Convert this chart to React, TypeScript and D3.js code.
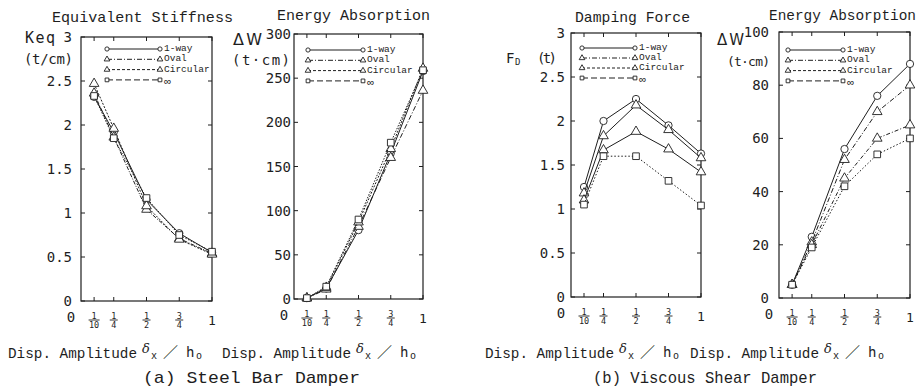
import React from "react"
import * as d3 from "d3"

// x positions (disp. amplitude) and their tick labels
const xValues = [0.1, 0.25, 0.5, 0.75, 1]
const xTickLabels = ["1/10", "1/4", "1/2", "3/4", "1"]

const seriesNames = ["1-way", "Oval", "Circular", "∞"]
const seriesShapes = ["circle", "triangle", "triangle", "square"]
const legendDash = ["none", "5,2,1,2", "3,2", "6,3"]

// (a) steel bar damper
const stiffOneWay = [2.32, 1.92, 1.15, 0.77, 0.55]
const stiffOval = [2.36, 1.86, 1.04, 0.71, 0.54]
const stiffCircular = [2.47, 1.96, 1.08, 0.7, 0.53]
const stiffInf = [2.33, 1.85, 1.17, 0.75, 0.56]

const steelWOneWay = [1, 12, 78, 165, 258]
const steelWOval = [1, 11, 82, 160, 236]
const steelWCircular = [1, 13, 87, 170, 261]
const steelWInf = [1, 14, 90, 177, 259]

// (b) viscous shear damper
const dampOneWay = [1.25, 2.0, 2.25, 1.95, 1.63]
const dampOval = [1.18, 1.83, 2.18, 1.9, 1.58]
const dampCircular = [1.1, 1.67, 1.88, 1.68, 1.42]
const dampInf = [1.05, 1.6, 1.6, 1.32, 1.04]

const viscWOneWay = [5, 23, 56, 76, 88]
const viscWOval = [5, 21, 52, 70, 80]
const viscWCircular = [5, 20, 45, 60, 65]
const viscWInf = [5, 19, 42, 54, 60]

const forceTicks = [0, 0.5, 1, 1.5, 2, 2.5, 3]
const steelWTicks = [0, 50, 100, 150, 200, 250, 300]
const viscWTicks = [0, 20, 40, 60, 80, 100]

const INK = "#1e1e1e"
const MONO = "'Liberation Mono', monospace"
const SANSMONO = "'DejaVu Sans Mono', monospace"

interface PanelCfg {
  box: { left: number; right: number; top: number; bottom: number }
  yMax: number
  yTicks: number[]
  tickGap: number
  series: number[][]
  plotDash: string[]
  legend: { x0: number; x1: number; y0: number; step: number }
}

const Marker = ({ shape, x, y, size }: { shape: string; x: number; y: number; size: number }) => {
  const type = shape === "circle" ? d3.symbolCircle : shape === "triangle" ? d3.symbolTriangle : d3.symbolSquare
  const d = d3.symbol().type(type).size(size)()
  return <path d={d || ""} transform={`translate(${x},${y})`} fill="#fff" stroke={INK} strokeWidth={0.9} />
}

const Panel = ({ cfg }: { cfg: PanelCfg }) => {
  const { box, yMax, yTicks, tickGap, series, plotDash, legend } = cfg
  const x = d3.scaleLinear().domain([0, 1]).range([box.left, box.right])
  const y = d3.scaleLinear().domain([0, yMax]).range([box.bottom, box.top])
  const line = d3
    .line<number>()
    .x((_, i) => x(xValues[i]))
    .y((d) => y(d))
  const sizeFor = (s: string) => (s === "circle" ? 42 : s === "triangle" ? 40 : 44)

  return (
    <g>
      <rect x={box.left} y={box.top} width={box.right - box.left} height={box.bottom - box.top} fill="none" stroke={INK} strokeWidth={1.2} />
      {/* y ticks, inward on both sides */}
      {yTicks.map((t) => (
        <g key={"y" + t}>
          <line x1={box.left} x2={box.left + 4} y1={y(t)} y2={y(t)} stroke={INK} />
          <line x1={box.right} x2={box.right - 4} y1={y(t)} y2={y(t)} stroke={INK} />
          <text x={box.left - tickGap} y={y(t)} dy="0.36em" textAnchor="end" fontFamily={SANSMONO} fontSize={14} fill={INK}>
            {t}
          </text>
        </g>
      ))}
      {/* x ticks */}
      {xValues.map((v, i) => {
        const [num, den] = xTickLabels[i].split("/")
        const cx = x(v)
        const barY = box.bottom + 19
        return (
          <g key={"x" + v}>
            <line x1={cx} x2={cx} y1={box.bottom} y2={box.bottom - 4} stroke={INK} />
            <line x1={cx} x2={cx} y1={box.top} y2={box.top + 4} stroke={INK} />
            {den ? (
              <g fontFamily={SANSMONO} fontSize={8.5} fill={INK} textAnchor="middle">
                <text x={cx} y={barY - 1.5}>{num}</text>
                <line x1={cx - (den.length > 1 ? 5.5 : 4)} x2={cx + (den.length > 1 ? 5.5 : 4)} y1={barY} y2={barY} stroke={INK} strokeWidth={0.9} />
                <text x={cx} y={barY + 7.5}>{den}</text>
              </g>
            ) : (
              <text x={cx} y={barY + 5} textAnchor="middle" fontFamily={SANSMONO} fontSize={13} fill={INK}>
                {num}
              </text>
            )}
          </g>
        )
      })}
      <text x={box.left - 10} y={box.bottom + 21} textAnchor="middle" fontFamily={SANSMONO} fontSize={14} fill={INK}>
        0
      </text>
      {/* data */}
      {series.map((vals, si) => (
        <g key={"s" + si}>
          <path d={line(vals) || ""} fill="none" stroke={INK} strokeWidth={1} strokeDasharray={plotDash[si]} />
          {vals.map((v, i) => (
            <Marker key={i} shape={seriesShapes[si]} x={x(xValues[i])} y={y(v)} size={sizeFor(seriesShapes[si])} />
          ))}
        </g>
      ))}
      {/* legend */}
      {seriesNames.map((name, si) => {
        const ly = legend.y0 + si * legend.step
        return (
          <g key={"l" + si}>
            <line x1={legend.x0} x2={legend.x1} y1={ly} y2={ly} stroke={INK} strokeWidth={1} strokeDasharray={legendDash[si]} />
            <Marker shape={seriesShapes[si]} x={legend.x0} y={ly} size={14} />
            <Marker shape={seriesShapes[si]} x={legend.x1} y={ly} size={14} />
            <text x={legend.x1 + 4} y={ly + (name === "∞" ? 5 : 2)} fontFamily={MONO} fontSize={name === "∞" ? 11 : 9.5} fill={INK}>
              {name}
            </text>
          </g>
        )
      })}
    </g>
  )
}

const panels: PanelCfg[] = [
  {
    box: { left: 81, right: 212, top: 37, bottom: 301 },
    yMax: 3,
    yTicks: forceTicks,
    tickGap: 9,
    series: [stiffOneWay, stiffOval, stiffCircular, stiffInf],
    plotDash: ["none", "4,1.5,1,1.5", "2,1.5", "1.5,1.5"],
    legend: { x0: 107, x1: 160, y0: 49, step: 10.3 },
  },
  {
    box: { left: 294, right: 423, top: 34, bottom: 299 },
    yMax: 300,
    yTicks: steelWTicks,
    tickGap: 3,
    series: [steelWOneWay, steelWOval, steelWCircular, steelWInf],
    plotDash: ["none", "5,2,1,2", "2,1.5", "1.5,1.5"],
    legend: { x0: 308, x1: 363, y0: 50, step: 10.3 },
  },
  {
    box: { left: 571, right: 701, top: 33, bottom: 297 },
    yMax: 3,
    yTicks: forceTicks,
    tickGap: 6,
    series: [dampOneWay, dampOval, dampCircular, dampInf],
    plotDash: ["none", "none", "none", "1.5,2"],
    legend: { x0: 582, x1: 635, y0: 48, step: 10 },
  },
  {
    box: { left: 779, right: 910, top: 32, bottom: 298 },
    yMax: 100,
    yTicks: viscWTicks,
    tickGap: 10,
    series: [viscWOneWay, viscWOval, viscWCircular, viscWInf],
    plotDash: ["none", "5,2,1,2", "4,2,1,2", "1.5,2"],
    legend: { x0: 788, x1: 843, y0: 50, step: 10.3 },
  },
]

const titles = [
  { text: "Equivalent Stiffness", x: 52, w: 181, y: 22 },
  { text: "Energy Absorption", x: 277, w: 153, y: 20 },
  { text: "Damping Force", x: 575, w: 115, y: 22 },
  { text: "Energy Absorption", x: 769, w: 147, y: 20 },
]

const dispStarts = [8, 222, 485, 690]

const DispLabel = ({ s }: { s: number }) => (
  <g fill={INK}>
    <text x={s} y={358} fontFamily={MONO} fontSize={14} textLength={129} lengthAdjust="spacingAndGlyphs">
      Disp. Amplitude
    </text>
    <text x={s + 134} y={353} fontFamily="'DejaVu Serif', serif" fontSize={13} fontStyle="italic">δ</text>
    <text x={s + 143} y={359} fontFamily={SANSMONO} fontSize={10}>x</text>
    <text x={s + 155} y={358} fontFamily="'Noto Sans CJK JP', sans-serif" fontSize={15}>／</text>
    <text x={s + 178} y={357} fontFamily={SANSMONO} fontSize={14}>h</text>
    <text x={s + 188} y={359} fontFamily={SANSMONO} fontSize={10}>o</text>
  </g>
)

export default function App() {
  return (
    <svg width={921} height={391} style={{ display: "block", position: "absolute", left: 0, top: 0, background: "#fff" }}>
      {titles.map((t, i) => (
        <text key={i} x={t.x} y={t.y} fontFamily={MONO} fontSize={15} textLength={t.w} lengthAdjust="spacingAndGlyphs" fill={INK}>
          {t.text}
        </text>
      ))}
      {panels.map((p, i) => (
        <Panel key={i} cfg={p} />
      ))}

      {/* axis unit labels */}
      <g fill={INK} fontFamily={SANSMONO}>
        <text x={25} y={43} fontSize={15} textLength={30}>Keq</text>
        <text x={24} y={64} fontSize={14} textLength={49}>(t/cm)</text>
        <text x={233} y={45} fontSize={16} fontFamily="'DejaVu Sans', sans-serif" textLength={29}>ΔW</text>
        <text x={232} y={65} fontSize={14} textLength={58}>(t·cm)</text>
        <text x={506} y={63} fontSize={14}>F</text>
        <text x={515} y={65} fontSize={9}>D</text>
        <text x={537} y={63} fontSize={14} textLength={20}>(t)</text>
        <text x={717} y={45} fontSize={15} fontFamily="'DejaVu Sans', sans-serif" textLength={27}>ΔW</text>
        <text x={727} y={66} fontSize={13} textLength={43}>(t·cm)</text>
      </g>

      {dispStarts.map((s) => (
        <DispLabel key={s} s={s} />
      ))}
      <text x={143} y={383} fontFamily={MONO} fontSize={17} textLength={217} lengthAdjust="spacingAndGlyphs" fill={INK}>
        (a) Steel Bar Damper
      </text>
      <text x={593} y={383} fontFamily={MONO} fontSize={17} textLength={224} lengthAdjust="spacingAndGlyphs" fill={INK}>
        (b) Viscous Shear Damper
      </text>
    </svg>
  )
}
